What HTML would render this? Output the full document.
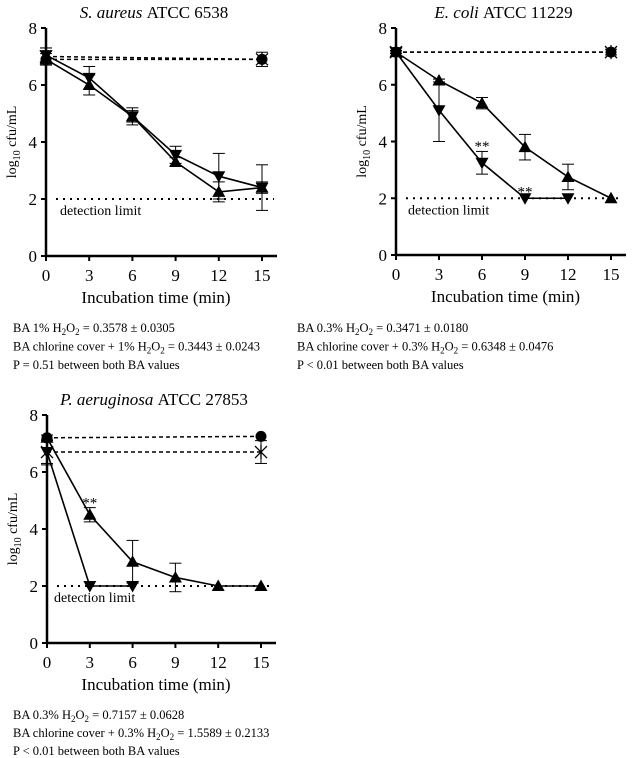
<!DOCTYPE html>
<html><head><meta charset="utf-8"><style>
html,body{margin:0;padding:0;background:#fff;}
svg{display:block;font-family:"Liberation Serif",serif;}
</style></head><body>
<svg id="fig" width="638" height="758" viewBox="0 0 638 758"></svg>
<script>
const xTicks=[0,3,6,9,12,15];
const yTicks=[0,2,4,6,8];
const detLimit=2;
// Panel A: S. aureus
const aCircle=[[0,6.9],[15,6.9]];
const aStar=[[0,7.0],[15,6.9]];
const aStarErr=[0.3,0.25];
const aDown=[[0,7.05],[3,6.25],[6,4.9],[9,3.55],[12,2.8],[15,2.4]];
const aDownErr=[0.25,0.4,0.3,0.3,0.8,0.8];
const aUp=[[0,6.9],[3,6.0],[6,4.9],[9,3.3],[12,2.25],[15,2.4]];
const aUpErr=[0.2,0.35,0.2,0.15,0.35,0.2];
// Panel B: E. coli
const bCircle=[[0,7.15],[15,7.15]];
const bStar=[[0,7.15],[15,7.15]];
const bStarErr=[0.05,0.1];
const bDown=[[0,7.15],[3,5.1],[6,3.25],[9,2.0],[12,2.0]];
const bDownErr=[0.05,1.1,0.4,0,0];
const bUp=[[0,7.15],[3,6.15],[6,5.35],[9,3.8],[12,2.75],[15,2.0]];
const bUpErr=[0.05,0.05,0.2,0.45,0.45,0];
// Panel C: P. aeruginosa
const cCircle=[[0,7.2],[15,7.25]];
const cStar=[[0,6.7],[15,6.7]];
const cStarErr=[0.45,0.4];
const cDown=[[0,6.7],[3,2.0],[6,2.0]];
const cDownErr=[0.4,0,0];
const cUp=[[0,7.2],[3,4.5],[6,2.85],[9,2.3],[12,2.0],[15,2.0]];
const cUpErr=[0.1,0.25,0.75,0.5,0,0];

const NS="http://www.w3.org/2000/svg";
const svg=document.getElementById('fig');
function mk(tag,attrs,parent){const e=document.createElementNS(NS,tag);for(const k in attrs)e.setAttribute(k,attrs[k]);(parent||svg).appendChild(e);return e;}

function panel(cfg){
  const g=mk('g',{});
  
  
  const X=v=>cfg.x0+(cfg.x15-cfg.x0)*v/15;
  const Y=v=>cfg.y0+(cfg.y8-cfg.y0)*v/8;
  const t=mk('text',{x:(cfg.x0+cfg.x15)/2,y:cfg.y8-10,'text-anchor':'middle','font-size':'17'},g);
  
  
  const ti=mk('tspan',{'font-style':'italic'},t);ti.textContent=cfg.sp+' ';
  const tn=mk('tspan',{},t);tn.textContent=cfg.strain;
  const ya=mk('line',{x1:cfg.x0,y1:Y(8),x2:cfg.x0,y2:cfg.y0+1,stroke:'#000','stroke-width':2.5},g);
  
  
  const xa=mk('line',{x1:cfg.x0-1,y1:cfg.y0,x2:cfg.x15+15,y2:cfg.y0,stroke:'#000','stroke-width':2.5},g);
  
  
  yTicks.forEach(v=>{
    mk('line',{x1:cfg.x0-5,y1:Y(v),x2:cfg.x0,y2:Y(v),stroke:'#000','stroke-width':2},g);
    const l=mk('text',{x:cfg.x0-9,y:Y(v)+6,'text-anchor':'end','font-size':'17'},g);
    
    
    l.textContent=v;
  });
  xTicks.forEach(v=>{
    mk('line',{x1:X(v),y1:cfg.y0,x2:X(v),y2:cfg.y0+5,stroke:'#000','stroke-width':2},g);
    const l=mk('text',{x:X(v),y:cfg.y0+25,'text-anchor':'middle','font-size':'17'},g);
    
    
    l.textContent=v;
  });
  const xt=mk('text',{x:(cfg.x0+cfg.x15)/2+2,y:cfg.y0+47,'text-anchor':'middle','font-size':'17'},g);
  
  
  xt.textContent='Incubation time (min)';
  const yt=mk('text',{transform:`translate(${cfg.x0-30},${(Y(8)+cfg.y0)/2}) rotate(-90)`,'text-anchor':'middle','font-size':'14'},g);
  
  
  const a=mk('tspan',{},yt);a.textContent='log';
  const b=mk('tspan',{dy:4,'font-size':'10'},yt);b.textContent='10';
  const c=mk('tspan',{dy:-4},yt);c.textContent=' cfu/mL';
  const dl=mk('line',{x1:cfg.x0+10,y1:Y(detLimit),x2:cfg.x15+12,y2:Y(detLimit),stroke:'#000','stroke-width':2,'stroke-dasharray':'2,5'},g);
  
  
  const dt=mk('text',{x:cfg.x0+cfg.dlx,y:Y(detLimit)+16,'font-size':'14'},g);
  
  
  dt.textContent='detection limit';
  function series(pts,errs,marker,dashed,name){
    const sg=mk('g',{},g);
    
    
    const d=pts.map((p,i)=>(i?'L':'M')+X(p[0])+','+Y(p[1])).join(' ');
    mk('path',{d:d,fill:'none',stroke:'#000','stroke-width':dashed?1.5:1.6,'stroke-dasharray':dashed?'4,3':'none'},sg);
    pts.forEach((p,i)=>{
      const x=X(p[0]),y=Y(p[1]),e=errs?errs[i]:0;
      if(e>0){
        mk('line',{x1:x,y1:Y(p[1]+e),x2:x,y2:Y(p[1]-e),stroke:'#000','stroke-width':1},sg);
        mk('line',{x1:x-6,y1:Y(p[1]+e),x2:x+6,y2:Y(p[1]+e),stroke:'#000','stroke-width':1},sg);
        mk('line',{x1:x-6,y1:Y(p[1]-e),x2:x+6,y2:Y(p[1]-e),stroke:'#000','stroke-width':1},sg);
      }
      let m;
      if(marker==='circle') m=mk('circle',{cx:x,cy:y,r:5.5,fill:'#000'},sg);
      else if(marker==='up') m=mk('path',{d:`M${x},${y-6.5} L${x+6.5},${y+5} L${x-6.5},${y+5}Z`,fill:'#000'},sg);
      else if(marker==='down') m=mk('path',{d:`M${x},${y+6.5} L${x+6.5},${y-5} L${x-6.5},${y-5}Z`,fill:'#000'},sg);
      else m=mk('path',{d:`M${x-6},${y-6}L${x+6},${y+6}M${x+6},${y-6}L${x-6},${y+6}M${x},${y-7}L${x},${y+7}`,stroke:'#000','stroke-width':1.3,fill:'none'},sg);
      
      
    });
  }
  series(cfg.star,cfg.starErr,'star',true,'control-star-series');
  series(cfg.circle,null,'circle',true,'control-circle-series');
  series(cfg.down,cfg.downErr,'down',false,'chlorine-cover-series');
  series(cfg.up,cfg.upErr,'up',false,'ba-series');
  (cfg.sig||[]).forEach(s=>{
    const st=mk('text',{x:X(s[0]),y:Y(s[1])+4,'text-anchor':'middle','font-size':'15'},g);
    
    
    st.textContent='**';
  });
  cfg.notes.forEach((n,i)=>{
    const nt=mk('text',{x:cfg.nx,y:cfg.ny+i*cfg.ns,'font-size':'12.5'},g);
    
    
    n.forEach(part=>{const s=mk('tspan',part[1]?{dy:part[1],'font-size':part[2]||'12.5'}:{},nt);s.textContent=part[0];});
  });
}
function h2o2(pre,post){return [[pre],['H'],['2',3,'9'],['O',-3],['2',3,'9'],[post,-3]];}
panel({name:'panel-s-aureus',sp:'S. aureus',strain:'ATCC 6538',x0:46,x15:262,y0:256,y8:28,dlx:14,
 circle:aCircle,star:aStar,starErr:aStarErr,down:aDown,downErr:aDownErr,up:aUp,upErr:aUpErr,
 nx:13,ny:332,ns:18.5,notes:[h2o2('BA 1% ',' = 0.3578 ± 0.0305'),h2o2('BA chlorine cover + 1% ',' = 0.3443 ± 0.0243'),[['P = 0.51 between both BA values']]]});
panel({name:'panel-e-coli',sp:'E. coli',strain:'ATCC 11229',x0:396,x15:611,y0:255,y8:28,dlx:12,
 circle:bCircle,star:bStar,starErr:bStarErr,down:bDown,downErr:bDownErr,up:bUp,upErr:bUpErr,sig:[[6,3.8],[9,2.2]],
 nx:297,ny:332,ns:18.5,notes:[h2o2('BA 0.3% ',' = 0.3471 ± 0.0180'),h2o2('BA chlorine cover + 0.3% ',' = 0.6348 ± 0.0476'),[['P < 0.01 between both BA values']]]});
panel({name:'panel-p-aeruginosa',sp:'P. aeruginosa',strain:'ATCC 27853',x0:47,x15:261,y0:643,y8:415,dlx:7,
 circle:cCircle,star:cStar,starErr:cStarErr,down:cDown,downErr:cDownErr,up:cUp,upErr:cUpErr,sig:[[3,4.9]],
 nx:13,ny:719,ns:18,notes:[h2o2('BA 0.3% ',' = 0.7157 ± 0.0628'),h2o2('BA chlorine cover + 0.3% ',' = 1.5589 ± 0.2133'),[['P < 0.01 between both BA values']]]});
</script>
</body></html>
